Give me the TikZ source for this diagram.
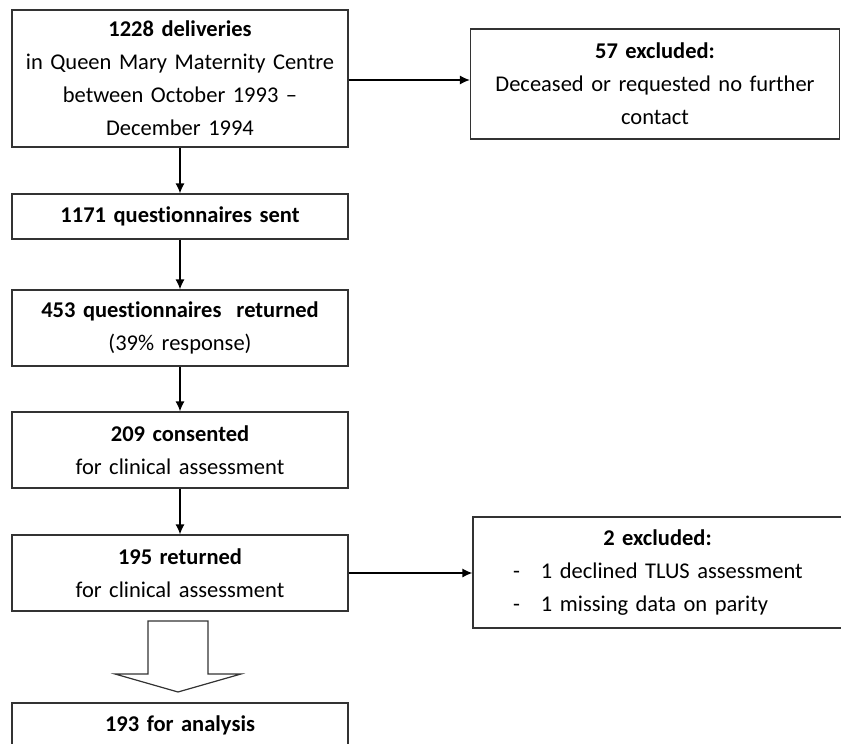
\documentclass[tikz,border=0pt]{standalone}
\usepackage{fontspec}
\setmainfont{Carlito}[Ligatures=NoCommon]
\usetikzlibrary{arrows.meta}

\begin{document}
\begin{tikzpicture}[
			x=1pt, y=-1pt,
			>={Latex[length=10pt,width=9pt]},
			main/.style = {draw=black!80, line width=1.2pt, inner sep=0pt,
				text width=336pt, align=center, minimum height=#1,
				font=\fontsize{22.5}{33}\selectfont},
			side/.style = {main=#1, text width=369pt},
			link/.style = {->, line width=1.3pt}
		]
		\useasboundingbox (0,0) rectangle (841,744);
		\clip (0,0) rectangle (841,744);
		\node[main=137pt] (deliv) at (180,78.5) {\textbf{1228 deliveries}\\in Queen Mary Maternity Centre\\between October 1993 --\\December 1994};
		\node[main=45pt] (sent) at (180,216.5) {\textbf{1171 questionnaires sent}};
		\node[main=76pt] (back) at (180,328) {\textbf{453 questionnaires\ \ returned}\\(39\% response)};
		\node[main=76pt] (consent) at (180,450) {\textbf{209 consented}\\for clinical assessment};
		\node[main=76pt] (clinic) at (180,573) {\textbf{195 returned}\\for clinical assessment};
		\node[main=44pt] (analysis) at (180,725) {\textbf{193 for analysis}};
		\node[side=110pt] (excl1) at (655,84) {\textbf{57 excluded:}\\Deceased or requested no further\\contact};
		\node[side=111pt] (excl2) at (657.5,572.5) {\textbf{2 excluded:}\\
			\makebox[289pt][l]{\makebox[28pt][l]{-}1 declined TLUS assessment}\\
			\makebox[289pt][l]{\makebox[28pt][l]{-}1 missing data on parity}};
		\draw[link] (deliv) -- (sent);
		\draw[link] (sent) -- (back);
		\draw[link] (back) -- (consent);
		\draw[link] (consent) -- (clinic);
		\draw[link] (deliv.east |- 0,80) -- (excl1.west |- 0,80);
		\draw[link] (clinic) -- (clinic -| excl2.west);
		% hollow arrow down to the analysis box
		\draw[line width=1.2pt, draw=black!80] (148,621) -- (208,621) -- (208,674) -- (241,674)
			-- (178,692) -- (115,674) -- (148,674) -- cycle;
	\end{tikzpicture}
\end{document}
